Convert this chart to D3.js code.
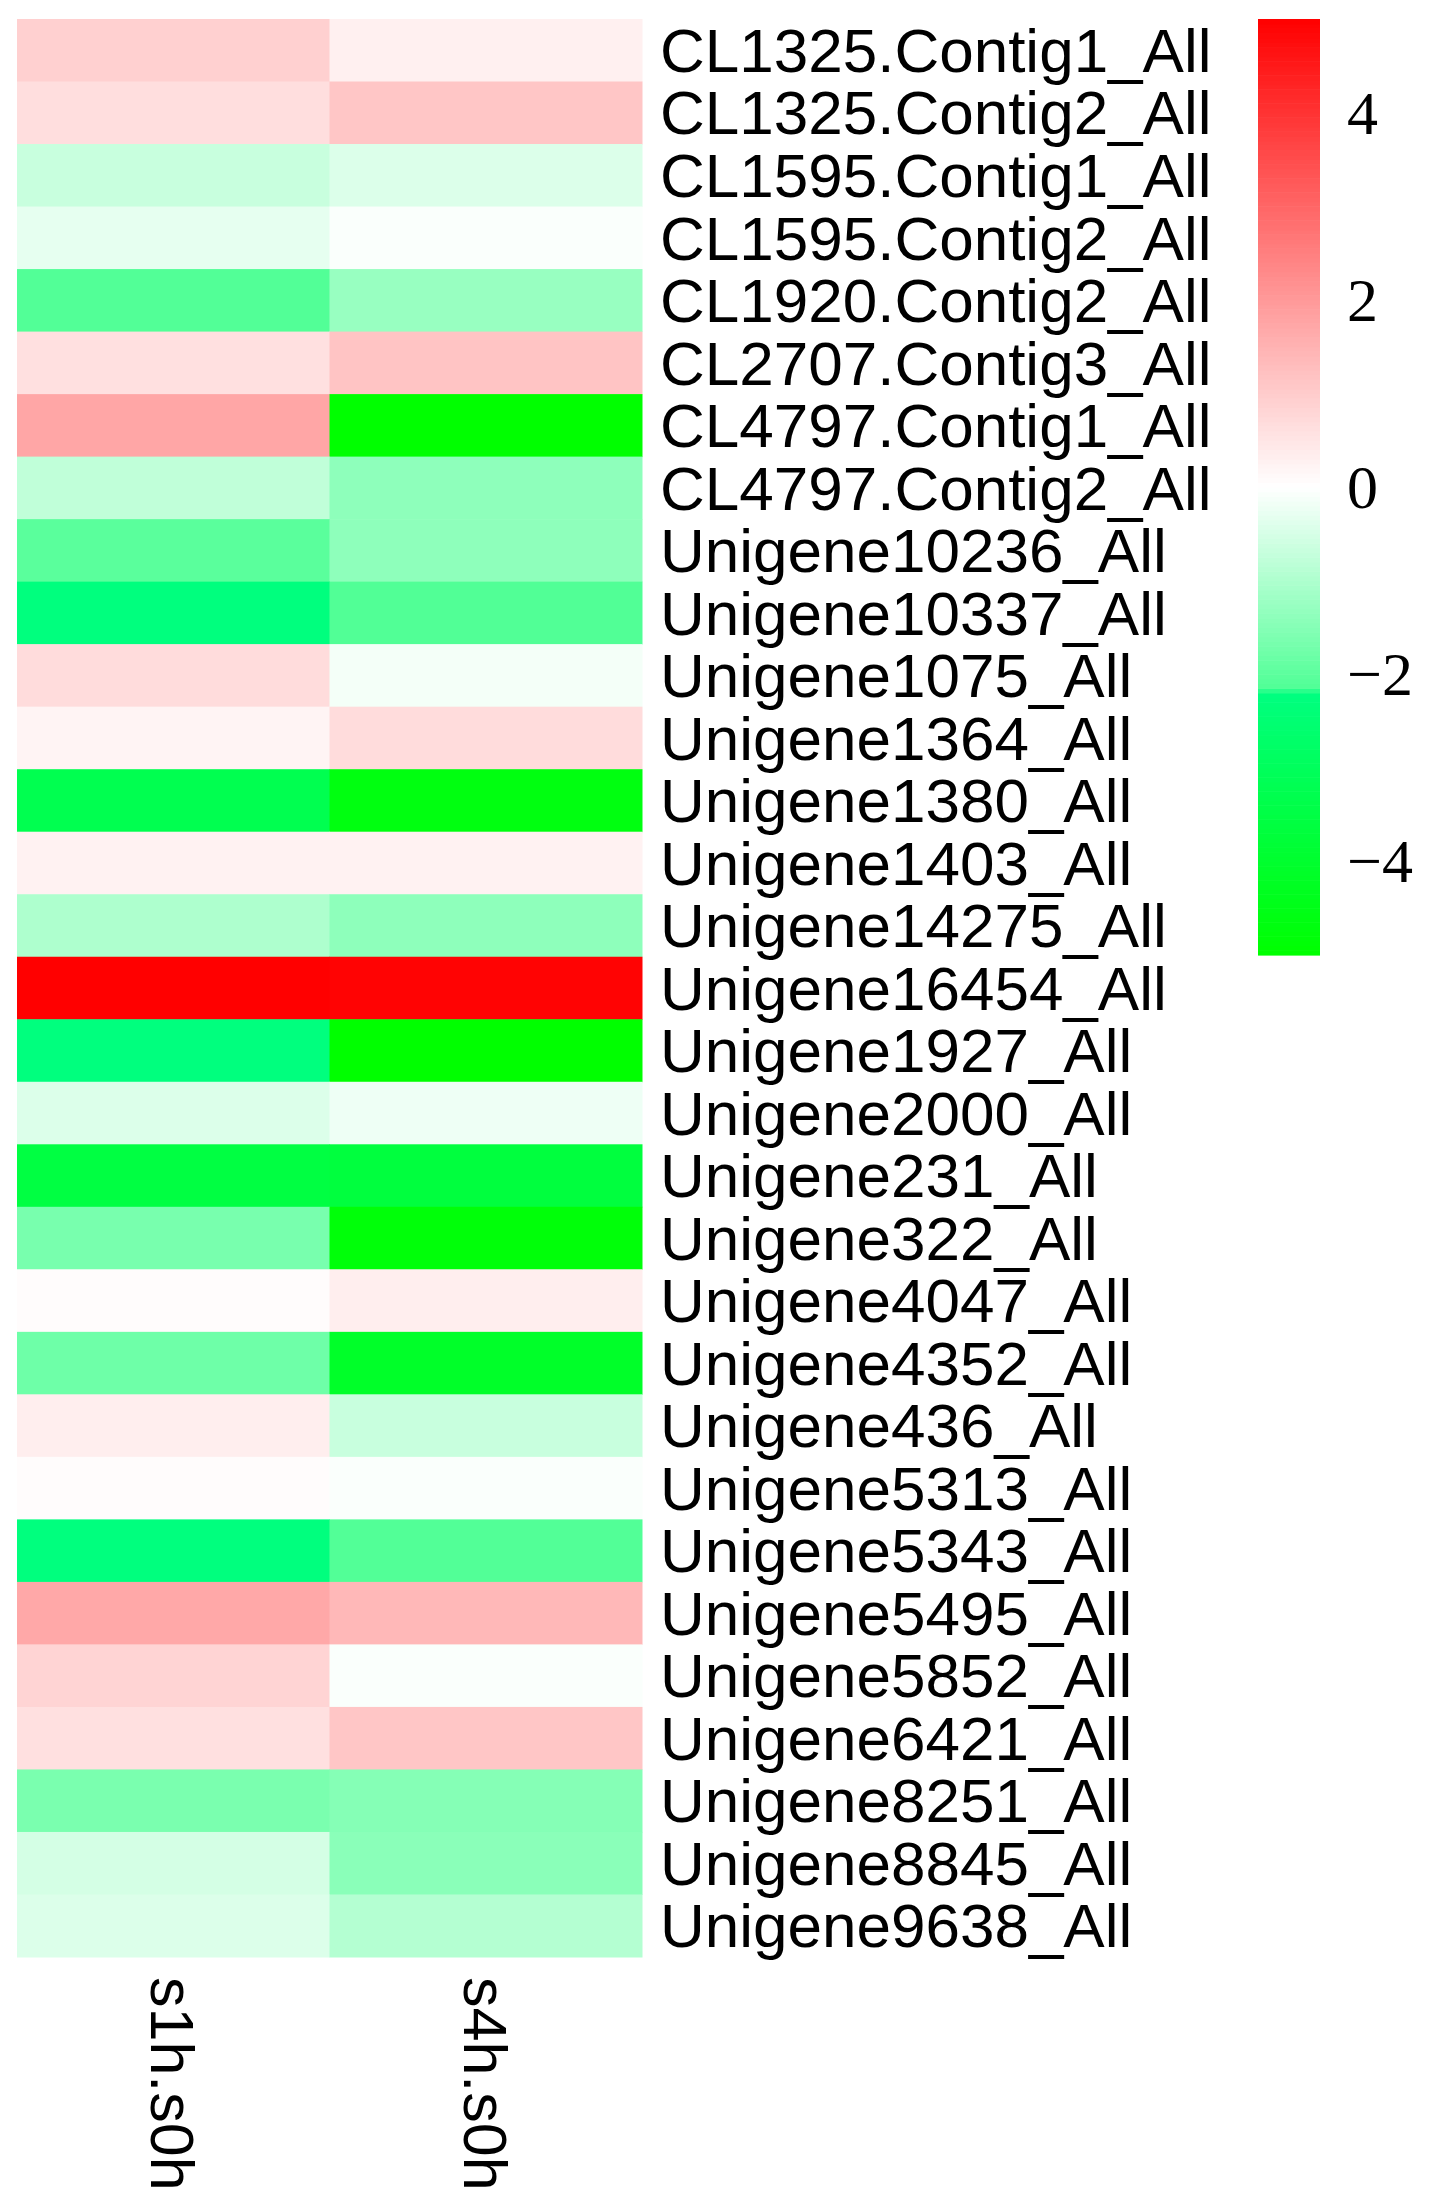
<!DOCTYPE html>
<html>
<head>
<meta charset="utf-8">
<script src="https://cdn.jsdelivr.net/npm/d3@7"></script>
<style>
  body { margin: 0; background: #fff; }
</style>
</head>
<body>
<div id="chart"></div>
<script>
// genes (rows) and the two comparisons (columns)
const genes = [
  "CL1325.Contig1_All", "CL1325.Contig2_All", "CL1595.Contig1_All", "CL1595.Contig2_All",
  "CL1920.Contig2_All", "CL2707.Contig3_All", "CL4797.Contig1_All", "CL4797.Contig2_All",
  "Unigene10236_All", "Unigene10337_All", "Unigene1075_All", "Unigene1364_All",
  "Unigene1380_All", "Unigene1403_All", "Unigene14275_All", "Unigene16454_All",
  "Unigene1927_All", "Unigene2000_All", "Unigene231_All", "Unigene322_All",
  "Unigene4047_All", "Unigene4352_All", "Unigene436_All", "Unigene5313_All",
  "Unigene5343_All", "Unigene5495_All", "Unigene5852_All", "Unigene6421_All",
  "Unigene8251_All", "Unigene8845_All", "Unigene9638_All"
];
const samples = ["s1h.s0h", "s4h.s0h"];

// log2 fold change
const s1h = [0.92, 0.65, -0.68, -0.31, -2.12, 0.61, 1.75, -0.77,
             -2.03, -2.25, 0.69, 0.22, -3.25, 0.25, -1.0, 5.0,
             -2.25, -0.43, -3.55, -1.66, 0.06, -1.78, 0.33, 0.05,
             -2.25, 1.71, 0.84, 0.61, -1.63, -0.53, -0.43];
const s4h = [0.29, 1.12, -0.43, -0.06, -1.27, 1.16, -5.0, -1.39,
             -1.39, -2.14, -0.14, 0.69, -4.65, 0.25, -1.39, 4.95,
             -5.0, -0.21, -3.65, -4.8, 0.33, -4.1, -0.68, -0.06,
             -2.12, 1.39, -0.06, 1.12, -1.5, -1.44, -0.92];

const legendTicks = [4, 2, 0, -2, -4];

const width = 1437, height = 2211;
const fontSize = 62;

const cells = genes.flatMap((g, i) => [
  {gene: g, sample: samples[0], value: s1h[i]},
  {gene: g, sample: samples[1], value: s4h[i]}
]);

const x = d3.scaleBand().domain(samples).range([17, 642]);
const y = d3.scaleBand().domain(genes).range([19, 1957]);

const color = d3.scaleLinear()
    .domain([-5, -2.2, -2.15, 0, 5])
    .range(["#00ff00", "#00ff80", "#50ff96", "#ffffff", "#ff0000"])
    .clamp(true);

const svg = d3.select("#chart").append("svg")
    .attr("width", width)
    .attr("height", height)
    .attr("viewBox", [0, 0, width, height]);

svg.append("rect").attr("width", width).attr("height", height).attr("fill", "#fff");

// heatmap cells
svg.append("g")
  .selectAll("rect")
  .data(cells)
  .join("rect")
    .attr("x", d => x(d.sample))
    .attr("y", d => y(d.gene))
    .attr("width", x.bandwidth() + 0.5)
    .attr("height", y.bandwidth() + 0.5)
    .attr("fill", d => color(d.value));

// row labels
svg.append("g")
    .attr("font-family", "'Liberation Sans', Arial, sans-serif")
    .attr("font-size", fontSize)
  .selectAll("text")
  .data(genes)
  .join("text")
    .attr("x", 660)
    .attr("y", d => y(d) + y.bandwidth() / 2 + fontSize * 0.35)
    .text(d => d);

// column labels, rotated
svg.append("g")
    .attr("font-family", "'Liberation Sans', Arial, sans-serif")
    .attr("font-size", 61)
  .selectAll("text")
  .data(samples)
  .join("text")
    .attr("transform", d => `translate(${x(d) + x.bandwidth() / 2 - 61 * 0.36},1977) rotate(90)`)
    .text(d => d);

// colour legend
const ly = d3.scaleLinear().domain([-5, 5]).range([955, 19]);
const steps = d3.range(-5, 5, 0.05);
const legend = svg.append("g");
legend.selectAll("rect")
  .data(steps)
  .join("rect")
    .attr("x", 1258)
    .attr("width", 62)
    .attr("y", d => ly(d + 0.05))
    .attr("height", d => ly(d) - ly(d + 0.05) + 0.6)
    .attr("fill", d => color(d + 0.025));

legend.selectAll("text")
  .data(legendTicks)
  .join("text")
    .attr("x", 1347)
    .attr("y", d => ly(d) + 21)
    .attr("font-family", "'Liberation Serif', 'Times New Roman', serif")
    .attr("font-size", 62)
    .text(d => d3.format("d")(d));
</script>
</body>
</html>
